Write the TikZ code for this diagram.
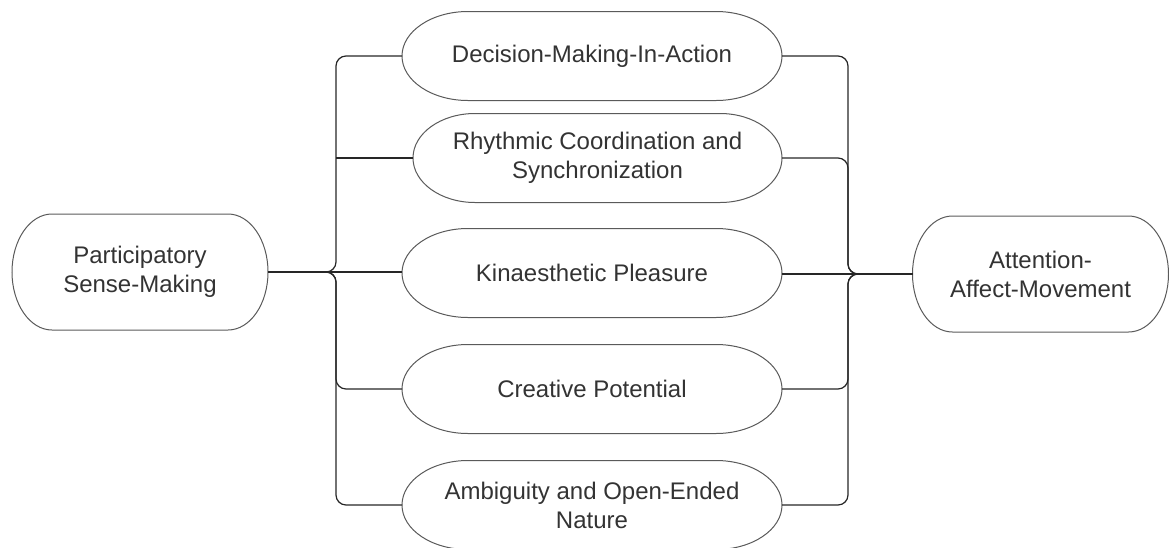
\documentclass[tikz,border=0pt]{standalone}
\usepackage{fontspec}
\setmainfont{Liberation Sans}
\usetikzlibrary{positioning}
\definecolor{edgegray}{HTML}{5A5A5A}
\definecolor{txtgray}{HTML}{333333}
\tikzstyle{pill} = [minimum height=44.5pt, minimum width=190pt,
    inner sep=0pt, outer sep=0pt, align=center, text=txtgray,
    font=\fontsize{12}{14.5}\selectfont]
\tikzstyle{endpill} = [pill, minimum height=58pt, minimum width=128pt]
\tikzstyle{outline} = [draw=edgegray, line width=0.5pt]
\tikzstyle{link} = [draw=black!85, line width=0.6pt, rounded corners=5pt]
\tikzstyle{trunk} = [link, line width=1pt]

\begin{document}
\begin{tikzpicture}[x=0.5pt, y=-0.5pt]
        \useasboundingbox (0,0) rectangle (1169,547);

        \node[endpill](psm) at (140,272){Participatory\\Sense-Making};

        \node[pill](dma) at (592,56){Decision-Making-In-Action};
        \node[pill, minimum width=184.5pt](rcs) at (597.5,158){Rhythmic Coordination and\\Synchronization};
        \node[pill](kp) at (592,273){Kinaesthetic Pleasure};
        \node[pill](cp) at (592,389){Creative Potential};
        \node[pill](aoe) at (592,505){Ambiguity and Open-Ended\\Nature};

        \node[endpill](aam) at (1040.5,274){Attention-\\Affect-Movement};

        % outlines with elliptic ends
        \foreach \n/\rx/\ry in {psm/20pt/29pt, aam/20pt/29pt,
                dma/33pt/22.25pt, rcs/31pt/22.25pt, kp/33pt/22.25pt,
                cp/33pt/22.25pt, aoe/33pt/22.25pt}
            \draw[outline] ([xshift=\rx]\n.north west) -- ([xshift=-\rx]\n.north east)
                arc[start angle=90, end angle=-90, x radius=\rx, y radius=\ry]
                -- ([xshift=\rx]\n.south west)
                arc[start angle=270, end angle=90, x radius=\rx, y radius=\ry] -- cycle;

        \coordinate (lj) at (325,272);
        \coordinate (lb) at (336,272);
        \coordinate (rb) at (848,274);
        \coordinate (rj) at (858,274);

        % left side
        \draw[trunk] (psm.east) -- (lj) -- (lj -| kp.west);
        \draw[link] (lj) -- (lb) -- (lb |- dma.west) -- (dma.west);
        \draw[link] (lb |- rcs.west) -- (rcs.west);
        \draw[link] (lj) -- (lb) -- (lb |- cp.west) -- (cp.west);
        \draw[link] (lj) -- (lb) -- (lb |- aoe.west) -- (aoe.west);

        % right side
        \draw[link] (dma.east) -- (dma.east -| rb) -- (rb) -- (rj);
        \draw[link] (rcs.east) -- (rcs.east -| rb) -- (rb) -- (rj);
        \draw[link] (kp.east |- rj) -- (rj);
        \draw[link] (cp.east) -- (cp.east -| rb) -- (rb) -- (rj);
        \draw[link] (aoe.east) -- (aoe.east -| rb) -- (rb) -- (rj);
        \draw[trunk] (rj) -- (aam.west);
    \end{tikzpicture}
\end{document}
